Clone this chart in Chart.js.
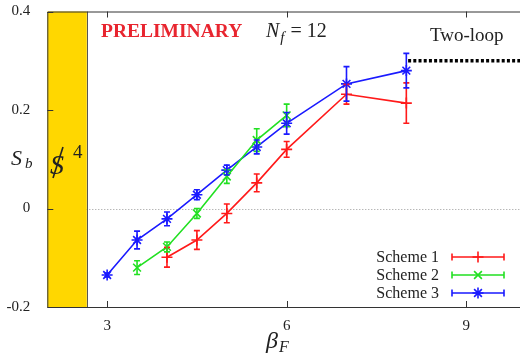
<!DOCTYPE html>
<html>
<head>
<meta charset="utf-8">
<script src="https://cdn.jsdelivr.net/npm/chart.js@4/dist/chart.umd.min.js"></script>
<style>
    html, body { margin: 0; padding: 0; background: #fff; overflow: hidden; }
    canvas { display: block; }
</style>
</head>
<body>
<canvas id="chart" width="526" height="353"></canvas>
<script>
// data
const beta1 = [4, 4.5, 5, 5.5, 6, 7, 8];
const sb1 = [-0.099, -0.064, -0.010, 0.052, 0.120, 0.232, 0.214];
const err1 = [0.020, 0.019, 0.019, 0.018, 0.016, 0.020, 0.041];

const beta2 = [3.5, 4, 4.5, 5, 5.5, 6];
const sb2 = [-0.120, -0.078, -0.010, 0.065, 0.139, 0.189];
const err2 = [0.014, 0.010, 0.010, 0.014, 0.023, 0.023];

const beta3 = [3, 3.5, 4, 4.5, 5, 5.5, 6, 7, 8];
const sb3 = [-0.135, -0.064, -0.021, 0.028, 0.078, 0.125, 0.173, 0.253, 0.280];
const err3 = [0.004, 0.018, 0.014, 0.010, 0.010, 0.014, 0.022, 0.035, 0.035];

const twoLoopBeta = [8.03, 10];
const twoLoopSb = [0.30, 0.30];

const xTicks = [3, 6, 9];
const yTicks = [-0.2, 0, 0.2, 0.4];
const s4Band = [2, 2.66];

const seriesNames = ['Scheme 1', 'Scheme 2', 'Scheme 3'];

const SERIF = '"Liberation Serif", "DejaVu Serif", serif';
const RED = '#ff1a1a';
const GREEN = '#22e022';
const BLUE = '#1a1aff';

function points(xs, ys) {
    return xs.map((x, i) => ({ x, y: ys[i] }));
}

function series(label, xs, ys, errs, color, style) {
    return {
        label,
        data: points(xs, ys),
        errors: errs,
        borderColor: color,
        backgroundColor: color,
        borderWidth: 1.6,
        pointStyle: style,
        pointRadius: 5.5,
        pointBorderWidth: 1.6,
        pointBorderColor: color,
        tension: 0,
    };
}

function noScalePadding(scale) {
    scale.paddingLeft = 0;
    scale.paddingRight = 0;
    scale.paddingTop = 0;
    scale.paddingBottom = 0;
}

// the plot frame runs past the right edge of the page, as in the source figure
const stretchPlugin = {
    id: 'stretch',
    afterLayout(chart) {
        const x = chart.scales.x;
        x.right = chart.width;
        x.width = x.right - x.left;
        x.configure();
        chart.chartArea.right = chart.width;
        chart.chartArea.width = chart.width - chart.chartArea.left;
    },
};

const framePlugin = {
    id: 'frame',
    beforeDatasetsDraw(chart) {
        const { ctx, chartArea: a, scales: { x, y } } = chart;
        ctx.save();

        // dotted zero line
        ctx.strokeStyle = '#999';
        ctx.lineWidth = 1;
        ctx.setLineDash([1, 2]);
        ctx.beginPath();
        ctx.moveTo(a.left, Math.round(y.getPixelForValue(0)) + 0.5);
        ctx.lineTo(a.right, Math.round(y.getPixelForValue(0)) + 0.5);
        ctx.stroke();
        ctx.setLineDash([]);

        // S^4 region
        const x0 = x.getPixelForValue(s4Band[0]);
        const x1 = x.getPixelForValue(s4Band[1]);
        ctx.fillStyle = '#ffd700';
        ctx.fillRect(x0, a.top, x1 - x0, a.bottom - a.top);
        ctx.strokeStyle = '#555';
        ctx.lineWidth = 1;
        ctx.beginPath();
        ctx.moveTo(Math.round(x1) + 0.5, a.top);
        ctx.lineTo(Math.round(x1) + 0.5, a.bottom);
        ctx.stroke();

        // box and tick marks
        ctx.strokeStyle = '#333';
        ctx.beginPath();
        ctx.moveTo(a.right, a.top + 0.5);
        ctx.lineTo(a.left + 0.5, a.top + 0.5);
        ctx.lineTo(a.left + 0.5, a.bottom + 0.5);
        ctx.lineTo(a.right, a.bottom + 0.5);
        xTicks.forEach((v) => {
            const px = Math.round(x.getPixelForValue(v)) + 0.5;
            ctx.moveTo(px, a.bottom);
            ctx.lineTo(px, a.bottom - 6);
            ctx.moveTo(px, a.top);
            ctx.lineTo(px, a.top + 6);
        });
        yTicks.forEach((v) => {
            const py = Math.round(y.getPixelForValue(v)) + 0.5;
            ctx.moveTo(a.left, py);
            ctx.lineTo(a.left + 6, py);
        });
        ctx.stroke();
        ctx.restore();
    },
};

function errorBar(ctx, px, yTop, yBottom, cap) {
    ctx.moveTo(px, yTop);
    ctx.lineTo(px, yBottom);
    ctx.moveTo(px - cap, yTop);
    ctx.lineTo(px + cap, yTop);
    ctx.moveTo(px - cap, yBottom);
    ctx.lineTo(px + cap, yBottom);
}

const errorPlugin = {
    id: 'errors',
    afterDatasetsDraw(chart) {
        const { ctx, scales: { x, y } } = chart;
        ctx.save();
        chart.data.datasets.forEach((ds) => {
            if (!ds.errors) {
                return;
            }
            ctx.strokeStyle = ds.borderColor;
            ctx.lineWidth = 1.6;
            ctx.beginPath();
            ds.data.forEach((p, i) => {
                const e = ds.errors[i];
                const px = x.getPixelForValue(p.x);
                errorBar(ctx, px, y.getPixelForValue(p.y + e), y.getPixelForValue(p.y - e), 3);
            });
            ctx.stroke();
        });
        ctx.restore();
    },
};

function subText(ctx, main, sub, xPos, yPos, mainFont, subFont, subDx, subDy) {
    ctx.font = mainFont;
    ctx.fillText(main, xPos, yPos);
    const w = ctx.measureText(main).width;
    ctx.font = subFont;
    ctx.fillText(sub, xPos + w + subDx, yPos + subDy);
    return xPos + w + subDx + ctx.measureText(sub).width;
}

const textPlugin = {
    id: 'texts',
    afterDraw(chart) {
        const { ctx } = chart;
        ctx.save();
        ctx.textBaseline = 'alphabetic';
        ctx.textAlign = 'left';

        ctx.fillStyle = '#e8252f';
        ctx.font = `bold 19.5px ${SERIF}`;
        ctx.fillText('PRELIMINARY', 101, 37);

        ctx.fillStyle = '#222';
        const end = subText(ctx, 'N', 'f', 266, 37, `italic 20px ${SERIF}`, `italic 15px ${SERIF}`, 1, 5);
        ctx.font = `20px ${SERIF}`;
        ctx.fillText('= 12', end + 6, 37);

        ctx.font = `19px ${SERIF}`;
        ctx.fillText('Two-loop', 430, 41);

        // axis titles
        subText(ctx, 'S', 'b', 11, 165, `italic 22px ${SERIF}`, `italic 15px ${SERIF}`, 3, 3);
        subText(ctx, 'β', 'F', 266, 348, `italic 24px ${SERIF}`, `italic 16px ${SERIF}`, 1, 4);

        // slashed S^4
        ctx.font = `italic 28px ${SERIF}`;
        ctx.fillText('S', 50, 174);
        ctx.strokeStyle = '#222';
        ctx.lineWidth = 1.6;
        ctx.beginPath();
        ctx.moveTo(53, 178);
        ctx.lineTo(63, 147);
        ctx.stroke();
        ctx.font = `19px ${SERIF}`;
        ctx.fillText('4', 73, 158);

        // legend
        const rows = [257, 275, 293];
        chart.data.datasets.slice(0, 3).forEach((ds, i) => {
            const yy = rows[i];
            ctx.fillStyle = '#222';
            ctx.font = `16px ${SERIF}`;
            ctx.textAlign = 'right';
            ctx.textBaseline = 'middle';
            ctx.fillText(seriesNames[i], 439, yy + 1);
            ctx.strokeStyle = ds.borderColor;
            ctx.lineWidth = 1.6;
            ctx.beginPath();
            ctx.moveTo(452, yy);
            ctx.lineTo(504, yy);
            ctx.moveTo(452, yy - 3.5);
            ctx.lineTo(452, yy + 3.5);
            ctx.moveTo(504, yy - 3.5);
            ctx.lineTo(504, yy + 3.5);
            ctx.stroke();
            Chart.helpers.drawPoint(ctx, {
                pointStyle: ds.pointStyle,
                radius: 5.5,
                borderWidth: 1.6,
                rotation: 0,
            }, 478, yy);
        });
        ctx.restore();
    },
};

new Chart(document.getElementById('chart'), {
    type: 'line',
    data: {
        datasets: [
            series(seriesNames[0], beta1, sb1, err1, RED, 'cross'),
            series(seriesNames[1], beta2, sb2, err2, GREEN, 'crossRot'),
            series(seriesNames[2], beta3, sb3, err3, BLUE, 'star'),
            {
                label: 'Two-loop',
                data: points(twoLoopBeta, twoLoopSb),
                borderColor: '#000',
                borderWidth: 3.5,
                borderDash: [3, 2.2],
                pointRadius: 0,
            },
        ],
    },
    options: {
        responsive: false,
        animation: false,
        layout: {
            padding: { top: 11.5, right: 0, left: 0, bottom: 0 },
        },
        plugins: {
            legend: false,
            tooltip: false,
        },
        scales: {
            x: {
                type: 'linear',
                min: 2,
                max: 10,
                afterBuildTicks(scale) {
                    scale.ticks = xTicks.map((value) => ({ value }));
                },
                afterFit(scale) {
                    scale.height = 46;
                    noScalePadding(scale);
                },
                grid: { display: false },
                border: { display: false },
                ticks: {
                    color: '#222',
                    padding: 2,
                    maxRotation: 0,
                    font: { family: SERIF, size: 15 },
                },
            },
            y: {
                min: -0.2,
                max: 0.4,
                afterBuildTicks(scale) {
                    scale.ticks = yTicks.map((value) => ({ value }));
                },
                afterFit(scale) {
                    scale.width = 47.3;
                    noScalePadding(scale);
                },
                grid: { display: false },
                border: { display: false },
                ticks: {
                    color: '#222',
                    padding: 9,
                    font: { family: SERIF, size: 15 },
                    callback: (v) => (v === 0 ? '0' : `${Math.round(v * 10) / 10}`),
                },
            },
        },
    },
    plugins: [stretchPlugin, framePlugin, errorPlugin, textPlugin],
});
</script>
</body>
</html>
